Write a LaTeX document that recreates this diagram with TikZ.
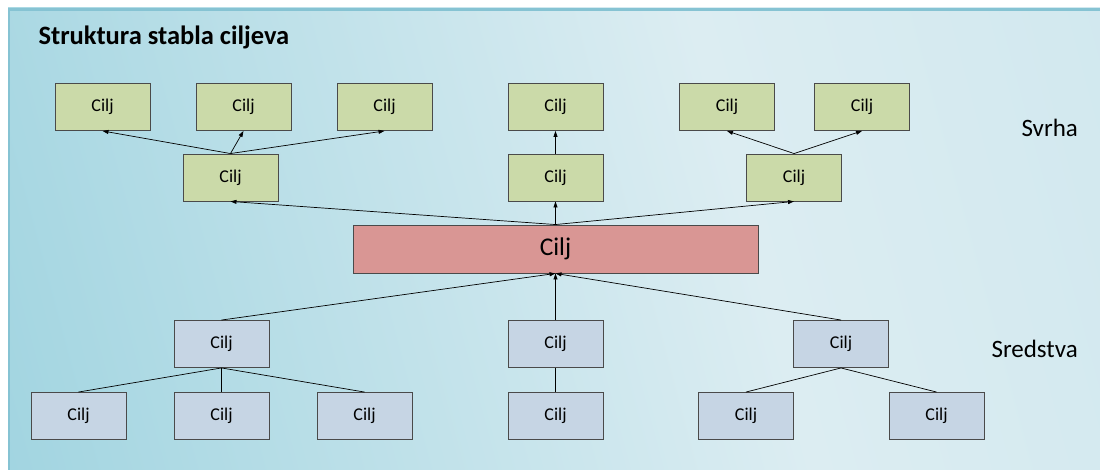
\documentclass[tikz,border=0pt]{standalone}
\usepackage{fontspec}
\setmainfont{Carlito}
\usepackage{tikz}
\usetikzlibrary{arrows.meta}

\definecolor{bgdark}{HTML}{92CDDB}
\definecolor{bgleft}{HTML}{A0D4E0}
\definecolor{bgmid}{HTML}{DCEDF2}
\definecolor{bgright}{HTML}{C8E4EC}
\definecolor{bgedge}{HTML}{86C3D3}
\definecolor{greenfill}{HTML}{CBDAA9}
\definecolor{redfill}{HTML}{D99694}
\definecolor{bluefill}{HTML}{C6D5E4}
\definecolor{boxline}{HTML}{4A4A4A}
\pgfdeclarehorizontalshading{bgshade}{100bp}{color(0bp)=(bgdark); color(18bp)=(bgleft); color(60bp)=(bgmid); color(100bp)=(bgright)}

\begin{document}
\begin{tikzpicture}[x=1pt,y=-1pt,
    box/.style={draw=boxline,line width=0.9pt,minimum width=95pt,minimum height=47pt,inner sep=0pt,font=\fontsize{18}{20}\selectfont},
    gbox/.style={box,fill=greenfill},
    bbox/.style={box,fill=bluefill},
    up/.style={line width=0.7pt,-{Triangle[length=6pt,width=4pt]}},
    link/.style={line width=0.7pt}]
        \useasboundingbox (0,0) rectangle (1100,470);
        \shade[shading=bgshade,shading angle=15] (8,8) rectangle (1100,470);
        \draw[bgedge,line width=1.5pt] (8.75,470) -- (8.75,9);
        \draw[bgedge,line width=3pt] (8,9.5) -- (1100,9.5);

        \node[anchor=base west,font=\fontsize{26.5}{30}\selectfont\bfseries] (title) at (35,45) {Struktura stabla ciljeva};
        \node[anchor=base west,font=\fontsize{25}{28}\selectfont] (svrha) at (1018,137) {Svrha};
        \node[anchor=base west,font=\fontsize{25}{28}\selectfont] (sred) at (988,357) {Sredstva};

        % svrha, gornji red
        \node[gbox] (t1) at (102.5,107) {Cilj};
        \node[gbox] (t2) at (243.5,107) {Cilj};
        \node[gbox] (t3) at (384.5,107) {Cilj};
        \node[gbox] (t4) at (555.5,107) {Cilj};
        \node[gbox] (t5) at (727,107) {Cilj};
        \node[gbox] (t6) at (862,107) {Cilj};

        \node[gbox] (s1) at (230.5,177.5) {Cilj};
        \node[gbox] (s2) at (555.5,177.5) {Cilj};
        \node[gbox] (s3) at (794,177.5) {Cilj};

        % glavni cilj
        \node[draw=boxline,line width=0.9pt,fill=redfill,minimum width=405pt,minimum height=48pt,inner sep=0pt,font=\fontsize{25.5}{28}\selectfont] (c) at (555.5,249) {Cilj};

        % sredstva
        \node[bbox] (m1) at (221.5,344) {Cilj};
        \node[bbox] (m2) at (555.5,344) {Cilj};
        \node[bbox] (m3) at (841,344) {Cilj};

        \node[bbox] (b1) at (78.5,416) {Cilj};
        \node[bbox] (b2) at (221.5,416) {Cilj};
        \node[bbox] (b3) at (364.5,416) {Cilj};
        \node[bbox] (b4) at (555.5,416) {Cilj};
        \node[bbox] (b5) at (746,416) {Cilj};
        \node[bbox] (b6) at (936.5,416) {Cilj};

        \draw[up](s1.north) -- (t1.south);
        \draw[up](s1.north) -- (t2.south);
        \draw[up](s1.north) -- (t3.south);
        \draw[up](s2.north) -- (t4.south);
        \draw[up](s3.north) -- (t5.south);
        \draw[up](s3.north) -- (t6.south);

        \draw[up](c.north) -- (s1.south);
        \draw[up](c.north) -- (s2.south);
        \draw[up](c.north) -- (s3.south);

        \draw[up](m1.north) -- (c.south);
        \draw[up](m2.north) -- (c.south);
        \draw[up](m3.north) -- (c.south);

        \draw[link](m1.south) -- (b1.north);
        \draw[link](m1.south) -- (b2.north);
        \draw[link](m1.south) -- (b3.north);
        \draw[link](m2.south) -- (b4.north);
        \draw[link](m3.south) -- (b5.north);
        \draw[link](m3.south) -- (b6.north);
    \end{tikzpicture}
\end{document}
